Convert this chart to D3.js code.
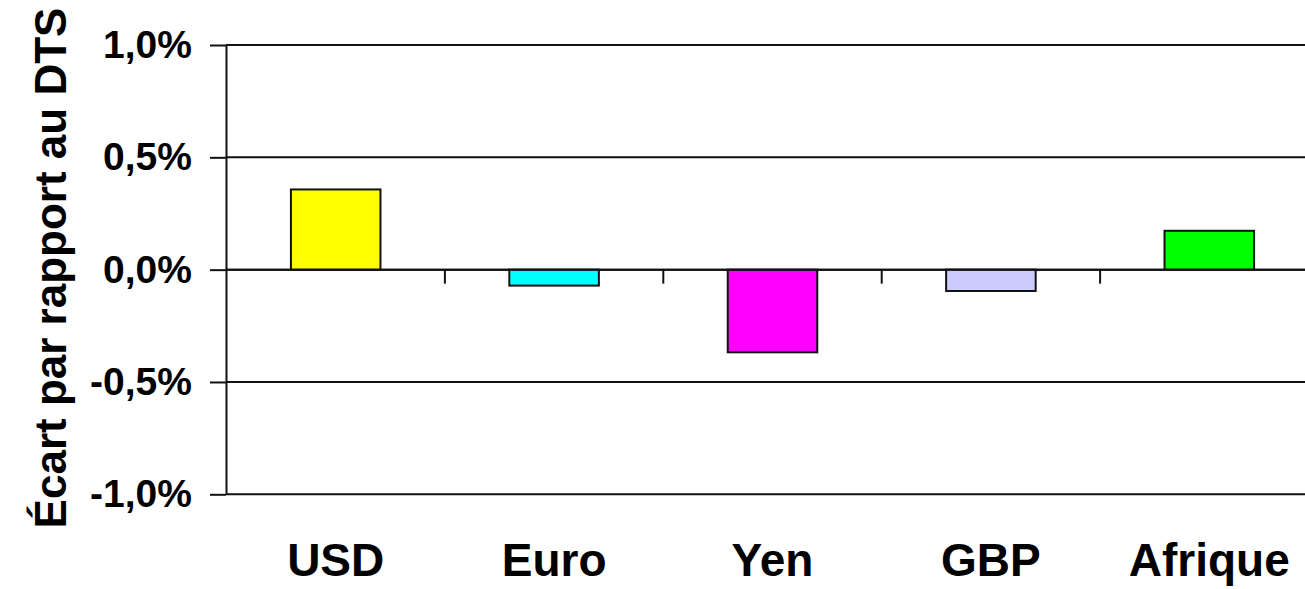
<!DOCTYPE html>
<html>
<head>
<meta charset="utf-8">
<script src="https://cdn.jsdelivr.net/npm/d3@7"></script>
<style>
  body { margin: 0; background: #fff; }
  svg { display: block; font-family: "Liberation Sans", Arial, sans-serif; }
</style>
</head>
<body>
<div id="chart"></div>
<script>
// chart size
const width = 1305;
const height = 589;
const margin = {left: 226, right: -13, top: 45, bottom: 95};

// data
const categories = ["USD", "Euro", "Yen", "GBP", "Afrique"];
const ecarts = [0.357, -0.071, -0.368, -0.095, 0.173];   // in %
const barColors = ["#ffff00", "#00ffff", "#ff00ff", "#ccccff", "#00ff00"];
const yTicks = [-1.0, -0.5, 0.0, 0.5, 1.0];
const yTitle = "Écart par rapport au DTS";

const svg = d3.select("#chart")
  .append("svg")
  .attr("width", width)
  .attr("height", height);

// scales
let yScale = d3.scaleLinear()
  .domain([-1, 1])
  .range([height - margin.bottom + 0.3, margin.top]);

let xScale = d3.scaleBand()
  .domain(categories)
  .range([margin.left + 0.5, width - margin.right + 0.5])
  .padding(0);

const barW = xScale.bandwidth() * 0.41;
// plain hyphen for negatives, comma as decimal mark
const fmt = v => (v < 0 ? "-" : "") + Math.abs(v).toFixed(1).replace(".", ",") + "%";

// horizontal grid lines
svg.append("g")
  .selectAll("line")
  .data(yTicks)
  .enter()
  .append("line")
    .attr("x1", margin.left)
    .attr("x2", width - margin.right)
    .attr("y1", d => yScale(d))
    .attr("y2", d => yScale(d))
    .attr("stroke", "#111")
    .attr("stroke-width", 2);

// y axis with labels
const yAxis = svg.append("g")
  .attr("transform", `translate(${margin.left},0)`)
  .call(d3.axisLeft(yScale)
    .tickValues(yTicks)
    .tickFormat(fmt)
    .tickSize(16)
    .tickSizeOuter(0)
    .tickPadding(18));
yAxis.selectAll("line").attr("stroke", "#111").attr("stroke-width", 2);
yAxis.select(".domain").attr("stroke", "#111").attr("stroke-width", 2);
yAxis.selectAll("text")
  .attr("font-size", "39px")
  .attr("font-weight", "bold")
  .attr("fill", "#000");

// bars
svg.selectAll(".bar")
  .data(ecarts)
  .enter()
  .append("rect")
    .attr("class", "bar")
    .attr("x", (d, i) => xScale(categories[i]) + (xScale.bandwidth() - barW) / 2)
    .attr("y", d => yScale(Math.max(0, d)))
    .attr("width", barW)
    .attr("height", d => Math.abs(yScale(d) - yScale(0)))
    .attr("fill", (d, i) => barColors[i])
    .attr("stroke", "#111")
    .attr("stroke-width", 2);

// zero line redrawn on top, with category separators below it
svg.append("line")
  .attr("x1", margin.left)
  .attr("x2", width - margin.right)
  .attr("y1", yScale(0))
  .attr("y2", yScale(0))
  .attr("stroke", "#111")
  .attr("stroke-width", 2);

svg.append("g")
  .selectAll("line")
  .data(categories.slice(1))
  .enter()
  .append("line")
    .attr("x1", d => xScale(d))
    .attr("x2", d => xScale(d))
    .attr("y1", yScale(0))
    .attr("y2", yScale(0) + 14)
    .attr("stroke", "#111")
    .attr("stroke-width", 2);

// category labels
const xAxis = svg.append("g")
  .attr("transform", `translate(0,${height - margin.bottom})`)
  .call(d3.axisBottom(xScale).tickSize(0).tickPadding(49));
xAxis.select(".domain").remove();
xAxis.selectAll("text")
  .attr("font-size", "46px")
  .attr("font-weight", "bold")
  .attr("fill", "#000");

// y axis title
svg.append("text")
  .attr("transform", `translate(66,268) rotate(-90)`)
  .attr("text-anchor", "middle")
  .attr("font-size", "44px")
  .attr("font-weight", "bold")
  .attr("fill", "#000")
  .text(yTitle);
</script>
</body>
</html>
